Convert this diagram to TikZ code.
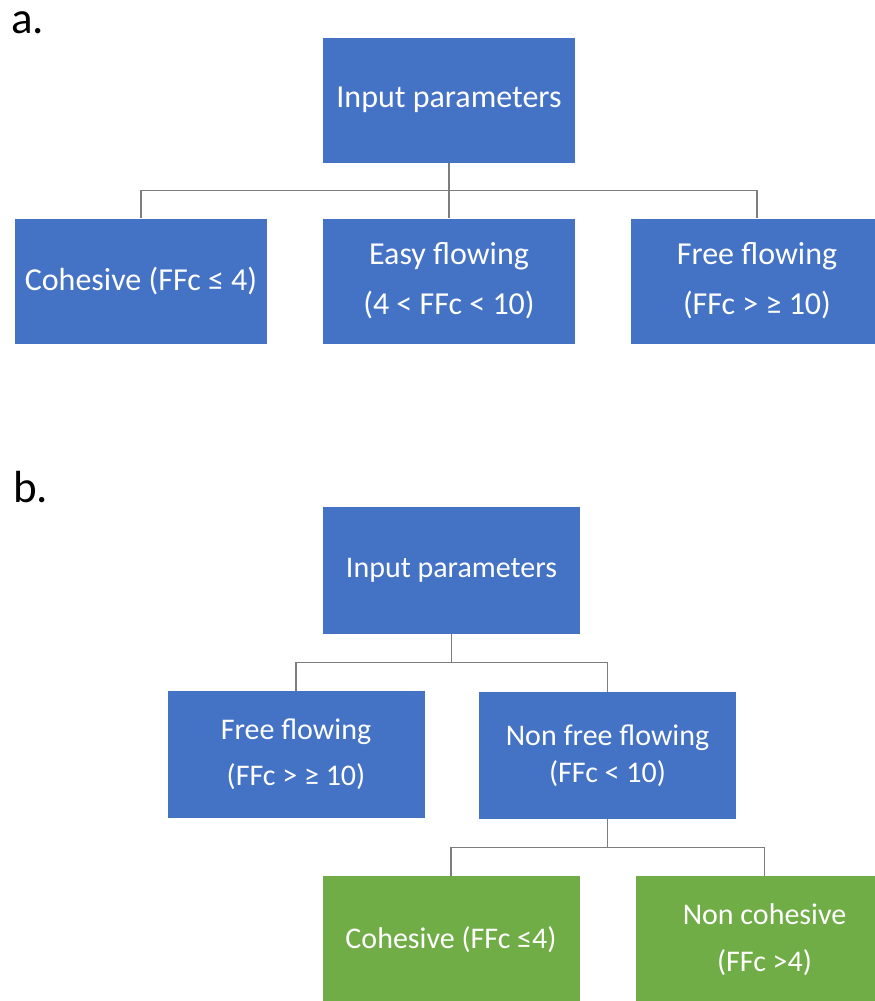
\documentclass[tikz,border=0pt]{standalone}
\usepackage{fontspec}
\setmainfont{Carlito}
\usetikzlibrary{calc}

\definecolor{boxblue}{HTML}{4472C4}
\definecolor{boxgreen}{HTML}{70AD47}
\definecolor{linkgray}{RGB}{125,125,125}

\tikzset{
  box/.style={rectangle, inner sep=0pt, text=white, align=center},
  bluebox/.style={box, fill=boxblue},
  greenbox/.style={box, fill=boxgreen},
  sizea/.style={minimum width=252pt, minimum height=125pt},
  sizeb/.style={minimum width=257pt, minimum height=127pt},
  link/.style={draw=linkgray, line width=1.6pt},
  panel/.style={inner sep=0pt, anchor=base west, font=\fontsize{45}{50}\selectfont}
}

\begin{document}
\begin{tikzpicture}[x=1pt, y=-1pt]
  \useasboundingbox (0,0) rectangle (875,1001);
  \clip (0,0) rectangle (875,1001);
  \fill[white] (0,0) rectangle (875,1001);

  % ---- panel a: three-way split ----
  \node[panel] (labela) at (11,33) {a.};

  \node[bluebox, sizea, font=\fontsize{32}{50}\selectfont] (ina) at (449,100) {Input parameters};
  \node[bluebox, sizea, font=\fontsize{32}{50}\selectfont] (coha) at (141,281) {Cohesive (FFc ≤ 4)};
  \node[bluebox, sizea, font=\fontsize{32}{50}\selectfont] (easy) at (449,281) {Easy flowing\\(4 < FFc < 10)};
  \node[bluebox, sizea, font=\fontsize{32}{50}\selectfont] (freea) at (757,281) {Free flowing\\(FFc > ≥ 10)};

  \coordinate (busa) at ($(ina.south)!0.5!(easy.north)$);
  \draw[link] (ina.south) -- (busa);
  \draw[link] (coha.north) |- (busa) -| (freea.north);
  \draw[link] (busa) -- (easy.north);

  % ---- panel b: two-level split ----
  \node[panel] (labelb) at (13,502) {b.};

  \node[bluebox, sizeb, font=\fontsize{30}{46}\selectfont] (inb) at (451.5,570.5) {Input parameters};
  \node[bluebox, sizeb, font=\fontsize{30}{46}\selectfont] (freeb) at (296,754.5) {Free flowing\\(FFc > ≥ 10)};
  \node[bluebox, sizeb, font=\fontsize{30}{37}\selectfont] (nonfree) at (607.5,755.5) {Non free flowing\\(FFc < 10)};

  \coordinate (busb) at (inb.south |- 0,662.5);
  \draw[link] (inb.south) -- (busb);
  \draw[link] (freeb.north) |- (busb) -| (nonfree.north);

  \node[greenbox, sizeb, font=\fontsize{30}{47}\selectfont] (cohg) at (451,939.5) {Cohesive (FFc ≤4)};
  \node[greenbox, sizeb, font=\fontsize{30}{47}\selectfont] (noncoh) at (764.5,939.5) {Non cohesive\\(FFc >4)};

  \coordinate (busc) at (nonfree.south |- 0,847.5);
  \draw[link] (nonfree.south) -- (busc);
  \draw[link] (cohg.north) |- (busc) -| (noncoh.north);
\end{tikzpicture}
\end{document}
